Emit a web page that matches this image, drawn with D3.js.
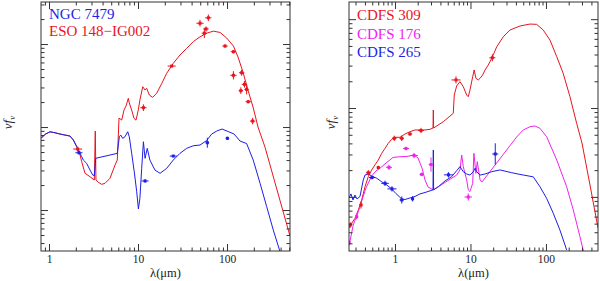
<!DOCTYPE html>
<html>
<head>
<meta charset="utf-8">
<script src="https://cdn.jsdelivr.net/npm/d3@7"></script>
<style>
  body { margin: 0; background: #fff; }
  svg { display: block; }
  .tick text { font-family: "Liberation Serif", "DejaVu Serif", serif; font-size: 11.5px; fill: #222; }
  .domain { stroke: none; }
</style>
</head>
<body>
<div id="chart"></div>
<script>
// ---- data (wavelength in micron, nu f_nu in arbitrary units) ----

// left panel: ESO 148-IG002 model (red)
const esoModel = [
  [0.813, 0.731], [0.902, 0.817], [1.026, 0.877], [1.168, 0.853], [1.33, 0.824],
  [1.51, 0.801], [1.72, 0.779], [1.88, 0.697], [2.05, 0.579], [2.19, 0.504],
  [2.33, 0.382], [2.54, 0.277], [2.89, 0.252], [3.23, 0.230], [3.31, 0.895],
  [3.37, 0.230], [3.58, 0.216], [3.91, 0.204], [4.26, 0.210], [4.84, 0.241],
  [5.52, 0.348], [5.85, 0.400], [6.12, 1.283], [6.56, 1.214], [6.96, 1.60],
  [7.33, 1.79], [7.78, 2.22], [7.98, 1.95], [8.49, 1.60], [9.02, 1.27],
  [9.50, 1.21], [10.07, 1.60], [10.5, 2.11], [11.3, 3.06], [12.0, 2.79],
  [12.5, 2.93], [13.4, 2.43], [14.6, 2.28], [16.2, 2.55], [18.5, 3.36],
  [21.0, 4.44], [24.9, 5.85], [29.6, 7.37], [35.2, 8.87], [41.8, 10.7],
  [49.7, 12.2], [59.1, 13.5], [70.2, 14.3], [83.4, 13.8], [99.3, 11.8],
  [118, 9.46], [133, 6.97], [151, 4.60], [172, 2.79], [196, 1.74],
  [223, 1.0], [267, 0.574], [510, 0.0486]
];

// left panel: NGC 7479 model (blue)
const ngcModel = [
  [0.813, 0.731], [0.902, 0.817], [1.026, 0.877], [1.168, 0.853], [1.33, 0.824],
  [1.51, 0.801], [1.72, 0.779], [1.88, 0.697], [2.05, 0.579], [2.19, 0.504],
  [2.33, 0.439], [2.43, 0.400], [2.65, 0.365], [2.89, 0.303], [3.10, 0.264],
  [3.23, 0.259], [3.35, 0.420], [5.85, 0.482], [6.17, 0.764], [6.39, 0.801],
  [6.73, 0.731], [7.14, 0.764], [7.66, 0.878], [7.98, 0.764], [8.49, 0.482],
  [9.08, 0.289], [9.67, 0.166], [10.1, 0.103], [10.5, 0.138], [11.0, 0.318],
  [11.5, 0.665], [12.0, 0.420], [12.7, 0.554], [13.6, 0.400], [15.5, 0.303],
  [17.7, 0.277], [21.0, 0.318], [24.9, 0.400], [29.6, 0.482], [35.2, 0.554],
  [41.8, 0.595], [49.7, 0.607], [59.1, 0.688], [67.3, 0.824], [76.6, 0.895],
  [87.9, 0.946], [103, 0.883], [120, 0.824], [140, 0.678], [166, 0.633],
  [197, 0.400], [235, 0.210], [279, 0.110], [331, 0.0574], [394, 0.0315]
];

// photometry: [lambda, flux, x error (dex), y error (dex)]
const esoPoints = [
  [23.9, 5.43, 0.045, 0.015], [49.7, 17.8, 0.04, 0.04], [61.7, 20.7, 0.035, 0.04],
  [58.1, 15.2, 0.03, 0.03], [55.6, 13.5, 0.03, 0.06], [95, 9.46, 0.03, 0.02],
  [118, 8.08, 0.03, 0.02], [118, 4.20, 0.035, 0.05], [146, 4.51, 0.03, 0.035],
  [157, 3.27, 0.03, 0.04], [143, 2.74, 0.025, 0.04], [166, 2.84, 0.025, 0.06],
  [173, 2.02, 0.03, 0.02], [194, 1.18, 0.03, 0.04], [11.5, 1.71, 0.035, 0.04],
  [2.10, 0.543, 0.05, 0.03]
];
const ngcPoints = [
  [2.17, 0.49, 0.04, 0.02], [12.0, 0.224, 0.04, 0.02], [24.9, 0.447, 0.04, 0.01],
  [60.1, 0.647, 0.02, 0.06], [101, 0.731, 0.02, 0.02]
];

// right panel models
const cdfs309Model = [
  [0.246, 0.0447], [0.267, 0.0505], [0.295, 0.0574], [0.327, 0.0713], [0.362, 0.0923],
  [0.401, 0.130], [0.443, 0.169], [0.491, 0.201], [0.543, 0.229], [0.601, 0.260],
  [0.667, 0.309], [0.738, 0.352], [0.815, 0.401], [0.904, 0.445], [1.0, 0.468],
  [1.165, 0.468], [1.357, 0.510], [1.58, 0.541], [1.84, 0.566], [2.50, 0.566],
  [2.91, 0.576], [3.19, 0.596], [3.22, 0.950], [3.25, 0.596], [4.36, 0.701],
  [5.92, 0.872], [6.10, 1.40], [6.56, 1.77], [7.26, 1.98], [8.03, 1.74],
  [8.91, 1.40], [9.35, 1.34], [9.84, 1.59], [10.7, 2.25], [11.2, 2.68],
  [11.8, 2.16], [12.7, 2.07], [13.4, 2.16], [14.5, 2.35], [15.6, 2.68],
  [17.2, 3.05], [19.1, 3.62], [22.3, 4.89], [27.2, 6.34], [33.3, 7.54],
  [45.2, 8.37], [61.4, 8.81], [75.3, 8.74], [92.1, 7.54], [113, 5.82],
  [139, 3.78], [169, 2.46], [208, 1.34], [255, 0.673], [300, 0.404],
  [383, 0.136], [489, 0.0447]
];
const cdfs176Model = [
  [0.248, 0.0288], [0.280, 0.0483], [0.327, 0.0682], [0.366, 0.0923], [0.413, 0.126],
  [0.491, 0.172], [0.560, 0.196], [0.633, 0.210], [0.760, 0.240], [0.941, 0.278],
  [1.165, 0.283], [1.44, 0.285], [1.79, 0.296], [2.02, 0.274], [2.28, 0.211],
  [2.50, 0.155], [2.74, 0.129], [3.22, 0.120], [6.56, 0.176], [7.26, 0.201],
  [7.65, 0.296], [8.03, 0.219], [8.91, 0.155], [9.35, 0.120], [9.84, 0.115],
  [10.7, 0.142], [11.1, 0.309], [11.8, 0.184], [12.3, 0.249], [13.4, 0.155],
  [14.2, 0.147], [40.9, 0.472], [50.0, 0.566], [61.4, 0.616], [71.5, 0.628],
  [83.3, 0.591], [102, 0.476], [139, 0.260], [188, 0.130], [230, 0.0713],
  [282, 0.0357], [318, 0.0234]
];
const cdfs265Model = [
  [0.246, 0.0972], [0.261, 0.108], [0.278, 0.0923], [0.295, 0.105], [0.314, 0.0947],
  [0.344, 0.101], [0.380, 0.155], [0.401, 0.176], [0.443, 0.181], [0.491, 0.172],
  [0.573, 0.162], [0.667, 0.148], [0.776, 0.136], [0.904, 0.123], [1.03, 0.109],
  [1.23, 0.0947], [1.36, 0.0935], [1.58, 0.0972], [1.84, 0.101], [2.14, 0.108],
  [2.50, 0.112], [3.19, 0.120], [3.22, 0.337], [3.25, 0.120], [3.75, 0.130],
  [4.59, 0.151], [5.64, 0.169], [6.56, 0.197], [7.26, 0.219], [8.03, 0.192],
  [8.91, 0.181], [9.84, 0.176], [10.9, 0.192], [11.5, 0.210], [12.1, 0.192],
  [13.4, 0.176], [15.6, 0.181], [19.1, 0.192], [24.6, 0.201], [35.2, 0.187],
  [45.3, 0.179], [67.9, 0.168], [83.3, 0.130], [102, 0.0964], [125, 0.0654],
  [153, 0.0424], [188, 0.0253]
];

const cdfs309Points = [
  [0.256, 0.0483, 0.02, 0.03], [0.355, 0.081, 0.02, 0.04], [0.443, 0.187, 0.03, 0.03],
  [0.601, 0.214, 0.02, 0.02], [0.979, 0.456, 0.03, 0.03], [1.23, 0.456, 0.03, 0.03],
  [1.58, 0.51, 0.03, 0.02], [2.21, 0.558, 0.04, 0.03], [6.43, 2.07, 0.06, 0.04],
  [19.5, 3.68, 0.04, 0.04]
];
const cdfs176Points = [
  [0.246, 0.0305, 0.02, 0.03], [0.311, 0.0598, 0.02, 0.03], [0.833, 0.215, 0.04, 0.03],
  [1.40, 0.35, 0.04, 0.02], [1.79, 0.292, 0.05, 0.03], [2.26, 0.179, 0.03, 0.02],
  [3.00, 0.231, 0.03, 0.08], [9.35, 0.0997, 0.05, 0.04]
];
const cdfs265Points = [
  [0.496, 0.165, 0.04, 0.02], [0.738, 0.142, 0.05, 0.03], [0.912, 0.123, 0.06, 0.03],
  [1.23, 0.0923, 0.03, 0.04], [1.71, 0.0952, 0.02, 0.03], [5.11, 0.177, 0.06, 0.03],
  [21.3, 0.304, 0.04, 0.12]
];

const xTickLabels = ["1", "10", "100"];

// ---- colours ----
const RED = "#e8141e", BLUE = "#1e1ee6", MAGENTA = "#ee22ee";

const svg = d3.select("#chart").append("svg")
    .attr("width", 600)
    .attr("height", 281);

// list of log ticks (1..9 x 10^n) inside a domain
function logTicks(domain) {
  const out = [];
  for (let e = -3; e <= 3; e++) {
    for (let m = 1; m <= 9; m++) {
      const v = m * Math.pow(10, e);
      if (v >= domain[0] && v <= domain[1]) out.push(v);
    }
  }
  return out;
}
const isMajor = v => Math.abs(Math.log10(v) - Math.round(Math.log10(v))) < 1e-6;

function drawPanel(cfg) {
  const w = cfg.x1 - cfg.x0, h = cfg.y1 - cfg.y0;
  const g = svg.append("g").attr("transform", `translate(${cfg.x0},${cfg.y0})`);

  const x = d3.scaleLog().domain(cfg.xDomain).range([0, w]);
  const y = d3.scaleLog().domain(cfg.yDomain).range([h, 0]);

  const clipId = "clip" + cfg.id;
  g.append("clipPath").attr("id", clipId)
    .append("rect").attr("width", w).attr("height", h);

  // curves
  const line = d3.line().x(d => x(d[0])).y(d => y(d[1]));
  const plot = g.append("g").attr("clip-path", `url(#${clipId})`);
  cfg.models.forEach(m => {
    plot.append("path")
      .datum(m.data)
      .attr("fill", "none")
      .attr("stroke", m.color)
      .attr("stroke-width", 1)
      .attr("d", line);
  });

  // photometric points with error bars
  cfg.points.forEach(p => {
    const pg = plot.append("g").attr("stroke", p.color).attr("fill", p.color);
    const pts = pg.selectAll("g").data(p.data).enter().append("g");
    pts.append("line")
      .attr("x1", d => x(d[0] / Math.pow(10, d[2])))
      .attr("x2", d => x(d[0] * Math.pow(10, d[2])))
      .attr("y1", d => y(d[1])).attr("y2", d => y(d[1]))
      .attr("stroke-width", 1);
    pts.append("line")
      .attr("x1", d => x(d[0])).attr("x2", d => x(d[0]))
      .attr("y1", d => y(d[1] / Math.pow(10, d[3])))
      .attr("y2", d => y(d[1] * Math.pow(10, d[3])))
      .attr("stroke-width", 1);
    pts.append("rect")
      .attr("x", d => x(d[0]) - 1.5).attr("y", d => y(d[1]) - 1.5)
      .attr("width", 3).attr("height", 3)
      .attr("stroke", "none");
  });

  // frame
  g.append("rect")
    .attr("width", w).attr("height", h)
    .attr("fill", "none").attr("stroke", "#333").attr("stroke-width", 1);

  const xt = logTicks(cfg.xDomain), yt = logTicks(cfg.yDomain);
  const xMaj = xt.filter(isMajor), xMin = xt.filter(v => !isMajor(v));
  const yMaj = yt.filter(isMajor), yMin = yt.filter(v => !isMajor(v));

  const fmt = v => xTickLabels[Math.round(Math.log10(v))];

  function addAxis(axis, tr) {
    const a = g.append("g").attr("transform", tr).call(axis);
    a.selectAll(".tick line").attr("stroke", "#333");
    return a;
  }
  // bottom
  addAxis(d3.axisBottom(x).tickValues(xMaj).tickSize(-7).tickPadding(4).tickFormat(fmt), `translate(0,${h})`);
  addAxis(d3.axisBottom(x).tickValues(xMin).tickSize(-3.5).tickFormat(""), `translate(0,${h})`);
  // top
  addAxis(d3.axisTop(x).tickValues(xMaj).tickSize(-7).tickFormat(""), "translate(0,0)");
  addAxis(d3.axisTop(x).tickValues(xMin).tickSize(-3.5).tickFormat(""), "translate(0,0)");
  // left / right
  addAxis(d3.axisLeft(y).tickValues(yMaj).tickSize(-7).tickFormat(""), "translate(0,0)");
  addAxis(d3.axisLeft(y).tickValues(yMin).tickSize(-3.5).tickFormat(""), "translate(0,0)");
  addAxis(d3.axisRight(y).tickValues(yMaj).tickSize(-7).tickFormat(""), `translate(${w},0)`);
  addAxis(d3.axisRight(y).tickValues(yMin).tickSize(-3.5).tickFormat(""), `translate(${w},0)`);

  // axis titles
  g.append("text")
    .attr("x", w / 2).attr("y", h + 26)
    .attr("text-anchor", "middle")
    .style("font-family", "Liberation Serif, DejaVu Serif, serif")
    .style("font-size", "12.5px")
    .style("fill", "#222")
    .text("λ(μm)");

  const yl = g.append("text")
    .attr("transform", `translate(${cfg.yLabelX},${h / 2 - 4}) rotate(-90)`)
    .attr("text-anchor", "middle")
    .style("font-family", "Liberation Serif, DejaVu Serif, serif")
    .style("font-size", "13px")
    .style("font-style", "italic")
    .style("fill", "#222");
  yl.append("tspan").text("νf");
  yl.append("tspan").attr("dy", 3).style("font-size", "9px").text("ν");

  // legend
  g.selectAll(".legend")
    .data(cfg.legend)
    .enter()
    .append("text")
    .attr("x", 8)
    .attr("y", (d, i) => cfg.legendY0 + i * cfg.legendDy)
    .style("font-family", "Liberation Serif, DejaVu Serif, serif")
    .style("font-size", "15px")
    .style("fill", d => d.color)
    .text(d => d.name);
}

drawPanel({
  id: "L", x0: 41, x1: 290, y0: 2, y1: 251,
  xDomain: [0.813, 510], yDomain: [0.0321, 32.1],
  models: [{ data: esoModel, color: RED }, { data: ngcModel, color: BLUE }],
  points: [{ data: esoPoints, color: RED }, { data: ngcPoints, color: BLUE }],
  legend: [{ name: "NGC 7479", color: BLUE }, { name: "ESO 148−IG002", color: RED }],
  legendY0: 16.5, legendDy: 17,
  yLabelX: -29
});

drawPanel({
  id: "R", x0: 349, x1: 598, y0: 2, y1: 251,
  xDomain: [0.246, 489], yDomain: [0.0246, 15.6],
  models: [
    { data: cdfs309Model, color: RED },
    { data: cdfs176Model, color: MAGENTA },
    { data: cdfs265Model, color: BLUE }
  ],
  points: [
    { data: cdfs309Points, color: RED },
    { data: cdfs176Points, color: MAGENTA },
    { data: cdfs265Points, color: BLUE }
  ],
  legend: [
    { name: "CDFS 309", color: RED },
    { name: "CDFS 176", color: MAGENTA },
    { name: "CDFS 265", color: BLUE }
  ],
  legendY0: 18, legendDy: 18.5,
  yLabelX: -14
});
</script>
</body>
</html>
